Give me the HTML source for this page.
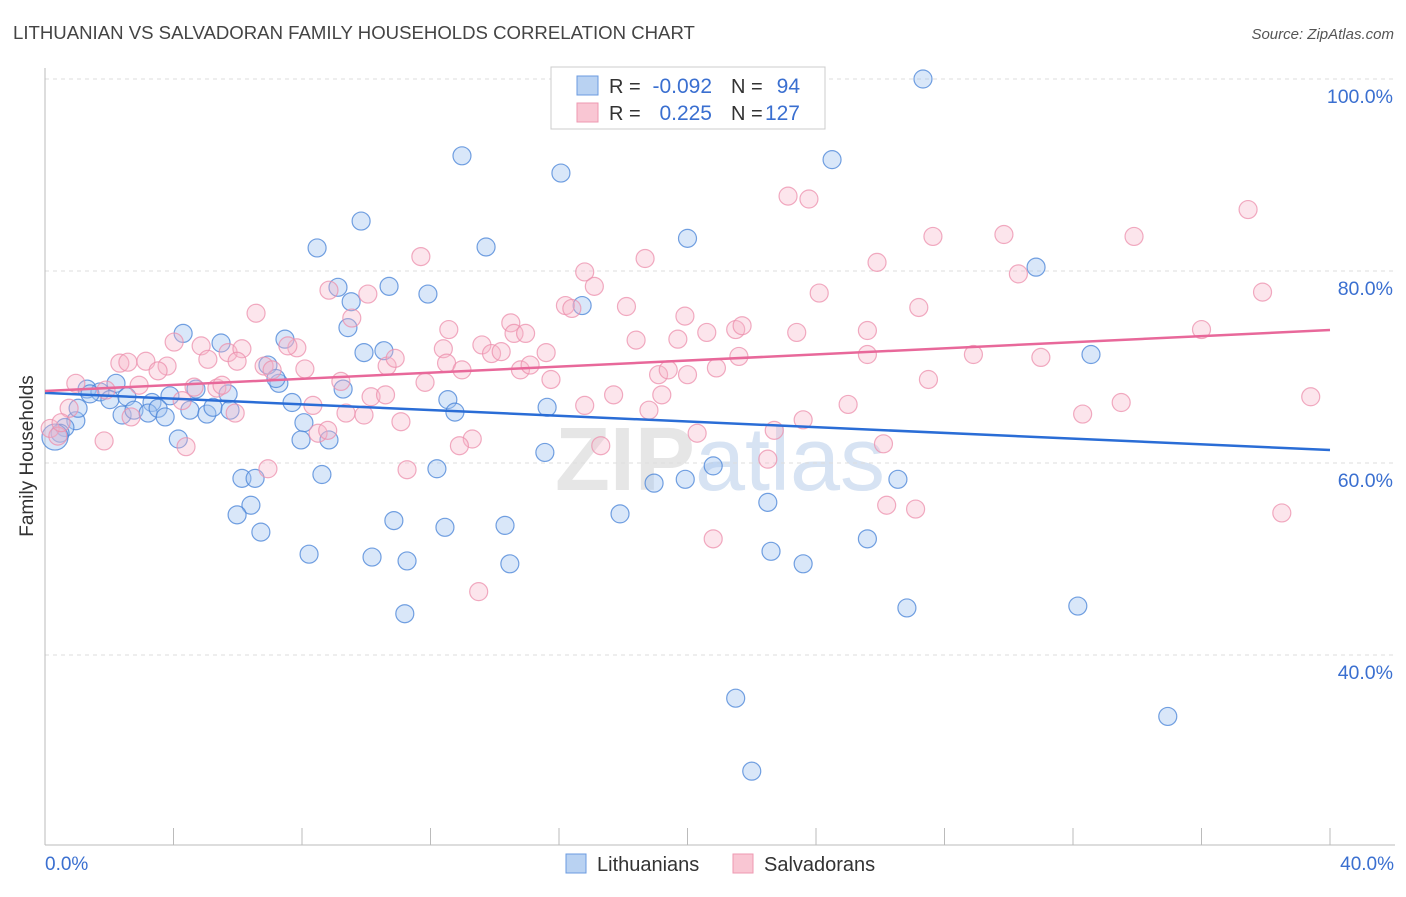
<!DOCTYPE html>
<html><head><meta charset="utf-8"><style>
body{margin:0;background:#fff;font-family:"Liberation Sans",sans-serif;}
</style></head><body>
<svg width="1406" height="892" xmlns="http://www.w3.org/2000/svg" font-family="Liberation Sans, sans-serif">
<text x="13" y="39" font-size="18.6" fill="#444">LITHUANIAN VS SALVADORAN FAMILY HOUSEHOLDS CORRELATION CHART</text>
<text x="1394" y="39" font-size="15" fill="#555" font-style="italic" text-anchor="end">Source: ZipAtlas.com</text>
<text x="720" y="490" font-size="90" fill="#e6e6e6" text-anchor="middle" font-weight="bold">ZIP<tspan fill="#d7e3f3" font-weight="normal">atlas</tspan></text>
<g id="grid"></g>
<line x1="45" y1="68" x2="45" y2="845" stroke="#bbb"/>
<line x1="45" y1="845" x2="1395" y2="845" stroke="#bbb"/>
<g id="xticks"></g>
<text x="33" y="456" font-size="19" fill="#333" text-anchor="middle" transform="rotate(-90 33 456)">Family Households</text>
<text x="45" y="870" font-size="19" fill="#3a6fd0">0.0%</text>
<text x="1394" y="870" font-size="19" fill="#3a6fd0" text-anchor="end">40.0%</text>
<g id="pts"></g>
<g id="trends"></g>
<g>
<rect x="551" y="67" width="274" height="62" fill="#fff" stroke="#ccc"/>
<rect x="577" y="76" width="21" height="19" fill="#b9d2f2" stroke="#6b9be0"/>
<rect x="577" y="103" width="21" height="19" fill="#f9c6d3" stroke="#ee98b2"/>
<text x="609" y="93" font-size="20" fill="#333">R = </text><text x="712" y="93" font-size="21" fill="#3a6fd0" text-anchor="end">-0.092</text>
<text x="731" y="93" font-size="20" fill="#333">N = </text><text x="800" y="93" font-size="21" fill="#3a6fd0" text-anchor="end">94</text>
<text x="609" y="120" font-size="20" fill="#333">R = </text><text x="712" y="120" font-size="21" fill="#3a6fd0" text-anchor="end">0.225</text>
<text x="731" y="120" font-size="20" fill="#333">N = </text><text x="800" y="120" font-size="21" fill="#3a6fd0" text-anchor="end">127</text>
</g>
<rect x="566" y="854" width="20" height="19" fill="#b9d2f2" stroke="#6b9be0"/>
<text x="597" y="871" font-size="20" fill="#333">Lithuanians</text>
<rect x="733" y="854" width="20" height="19" fill="#f9c6d3" stroke="#ee98b2"/>
<text x="764" y="871" font-size="20" fill="#333">Salvadorans</text>
</svg>
<script>
const yTicks=[100,80,60,40];
const blueX=[17.65,18.27,27.33,12.98,16.06,24.5,9.84,8.47,13.73,20.0,9.12,9.53,10.71,11.92,16.72,30.85,4.3,5.48,7.47,9.43,9.93,10.55,32.56,2.21,1.31,1.71,2.02,1.4,2.55,3.33,3.89,4.7,5.7,6.94,7.28,7.19,9.28,0.96,1.03,2.4,2.77,3.21,3.52,3.74,4.51,5.04,5.23,5.76,7.69,8.06,12.54,12.76,15.63,0.62,0.47,0.31,4.15,7.97,8.84,15.56,6.13,6.54,8.62,12.2,18.96,19.93,20.8,26.55,6.41,5.98,6.72,10.86,12.45,14.32,17.9,22.5,8.22,10.18,11.27,14.47,22.6,23.6,25.6,11.2,26.83,32.15,21.5,22.0,34.95];
const blueY=[100,100,100,92.0,90.2,91.6,85.2,82.4,82.5,83.4,78.3,76.8,78.4,77.6,76.4,80.4,73.5,72.5,72.9,74.1,71.5,71.7,71.3,68.3,67.7,67.4,66.6,67.2,66.9,66.3,67.0,67.7,67.2,70.2,68.3,68.8,67.7,64.4,65.7,65.0,65.5,65.2,65.7,64.8,65.5,65.1,65.8,65.5,66.3,64.2,66.6,65.3,65.8,63.7,63.1,62.7,62.5,62.4,62.4,61.1,58.4,58.4,58.8,59.4,57.9,58.3,59.7,58.3,55.6,54.6,52.8,54.0,53.3,53.5,54.7,55.9,50.5,50.2,49.8,49.5,50.8,49.5,52.1,44.3,44.9,45.1,35.5,27.9,33.6];
const pinkX=[17.56,23.13,23.78,37.45,27.64,29.85,33.9,11.7,18.68,25.9,16.8,30.3,8.84,17.1,10.05,24.1,37.9,6.57,9.55,16.2,16.4,18.1,19.92,27.2,12.57,14.5,14.6,14.96,18.4,19.7,20.6,21.5,21.7,23.4,25.6,36.0,4.02,4.86,5.7,6.13,7.84,7.56,12.4,13.6,13.9,14.2,15.6,21.6,25.6,28.9,31.0,2.33,2.58,3.14,3.8,3.52,5.98,5.07,6.82,7.07,8.09,10.65,10.9,12.5,12.98,14.8,15.1,19.1,19.4,20.0,20.9,0.96,1.9,2.93,4.64,5.35,5.51,9.21,11.83,15.75,27.5,10.15,10.6,17.7,19.2,33.5,39.4,0.75,4.27,8.34,9.37,9.93,5.92,16.8,18.8,23.6,25.0,32.3,2.68,11.08,0.16,0.4,0.5,8.5,8.8,13.3,12.9,17.3,20.3,22.7,26.1,1.84,4.39,6.94,11.27,22.5,26.2,27.1,38.5,20.8,13.5];
const pinkY=[100,87.8,87.5,86.4,83.6,83.8,83.6,81.5,81.3,80.9,79.9,79.7,78.0,78.4,77.6,77.7,77.8,75.6,75.1,76.4,76.1,76.3,75.3,76.2,73.9,74.6,73.5,73.5,72.8,72.9,73.6,73.9,74.3,73.6,73.8,73.9,72.6,72.2,71.5,71.9,72.0,72.2,71.9,72.3,71.4,71.6,71.5,71.1,71.3,71.3,71.0,70.4,70.5,70.6,70.1,69.6,70.6,70.8,70.1,69.7,69.8,70.1,70.9,70.4,69.7,69.7,70.2,69.2,69.7,69.2,69.9,68.3,67.6,68.1,67.9,67.8,68.1,68.5,68.4,68.7,68.7,66.9,67.1,67.1,67.1,66.3,66.9,65.7,66.5,66.0,65.2,65.0,65.2,66.0,65.5,64.5,66.1,65.1,64.8,64.3,63.6,62.8,64.2,63.1,63.4,62.5,61.8,61.8,63.1,63.4,62.0,62.3,61.7,59.4,59.3,60.4,55.6,55.2,54.8,52.1,46.6];
const blueTrend=[67.3,61.35];
const pinkTrend=[67.5,73.85];
const NS="http://www.w3.org/2000/svg";
function sx(v){return 45+v/40*1285;}
function sy(v){return 79+(100-v)*9.6;}
function mk(t,a){const e=document.createElementNS(NS,t);for(const k in a)e.setAttribute(k,a[k]);return e;}
const grid=document.getElementById('grid');
yTicks.forEach(v=>{
 const l=mk('line',{x1:45,x2:1395,y1:sy(v),y2:sy(v),stroke:'#ddd','stroke-dasharray':'4,4'});
 
 
 grid.appendChild(l);
 const t=mk('text',{x:1393,y:sy(v)+24,'font-size':19.5,fill:'#3a6fd0','text-anchor':'end'});
 t.textContent=v.toFixed(1)+'%';
 
 
 grid.appendChild(t);
});
const xt=document.getElementById('xticks');
for(let k=0;k<=10;k++){
 const l=mk('line',{x1:sx(k*4),x2:sx(k*4),y1:828,y2:845,stroke:'#bbb'});
 
 
 xt.appendChild(l);
}
const pts=document.getElementById('pts');
blueX.forEach((x,i)=>{
 const c=mk('circle',{cx:sx(x),cy:sy(blueY[i]),r:(i===55?13:9),fill:'rgba(160,195,240,0.4)',stroke:'rgba(70,130,215,0.75)','stroke-width':1.2});
 
 
 pts.appendChild(c);
});
pinkX.forEach((x,i)=>{
 const c=mk('circle',{cx:sx(x),cy:sy(pinkY[i]),r:9,fill:'rgba(245,180,200,0.35)',stroke:'rgba(236,143,172,0.75)','stroke-width':1.2});
 
 
 pts.appendChild(c);
});
const tr=document.getElementById('trends');
const bl=mk('line',{x1:sx(0),x2:sx(40),y1:sy(blueTrend[0]),y2:sy(blueTrend[1]),stroke:'#2a6dd6','stroke-width':2.5});


tr.appendChild(bl);
const pl=mk('line',{x1:sx(0),x2:sx(40),y1:sy(pinkTrend[0]),y2:sy(pinkTrend[1]),stroke:'#e8689a','stroke-width':2.5});


tr.appendChild(pl);
</script>
</body></html>
